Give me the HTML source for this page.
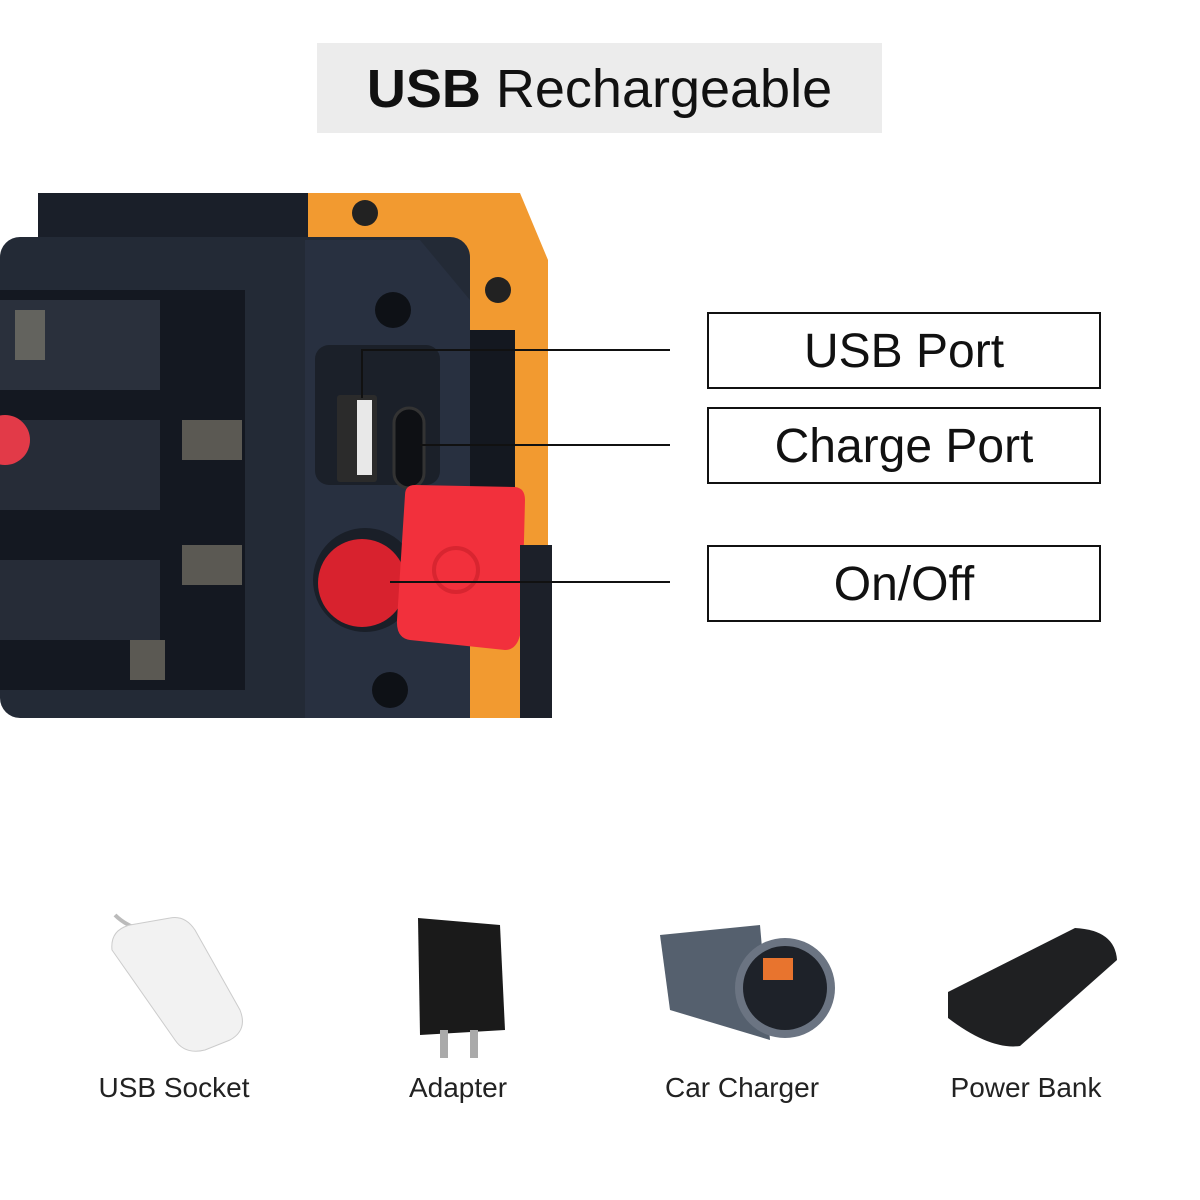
<!DOCTYPE html>
<html><head><meta charset="utf-8"><style>
body{margin:0;width:1200px;height:1200px;background:#fff;position:relative;overflow:hidden;font-family:"Liberation Sans",sans-serif;}
.title{position:absolute;left:317px;top:43px;width:565px;height:90px;background:#ececec;text-align:center;line-height:92px;font-size:54px;color:#111;}
.box{position:absolute;left:707px;width:390px;height:73px;border:2px solid #111;text-align:center;line-height:75px;font-size:48px;color:#111;}
.lbl{position:absolute;top:1072px;width:260px;text-align:center;font-size:28px;color:#222;}
</style></head><body>
<div class="title"><b>USB</b> Rechargeable</div>
<svg width="1200" height="1200" style="position:absolute;left:0;top:0">
<path d="M305 193 L520 193 L548 260 L548 718 L305 718 Z" fill="#f29a30"/>
<rect x="38" y="193" width="270" height="60" fill="#1a1f29"/>
<rect x="470" y="330" width="45" height="230" fill="#141820"/>
<rect x="0" y="237" width="470" height="481" rx="20" fill="#232a36"/>
<path d="M305 240 L420 240 L470 300 L470 718 L305 718 Z" fill="#283040"/>
<rect x="0" y="290" width="245" height="400" fill="#141821"/>
<rect x="0" y="300" width="160" height="90" fill="#2a303c"/>
<rect x="0" y="420" width="160" height="90" fill="#262c37"/>
<rect x="0" y="560" width="160" height="80" fill="#262c37"/>
<circle cx="5" cy="440" r="25" fill="#e23a48"/>
<rect x="182" y="420" width="60" height="40" fill="#8a8575" opacity=".6"/>
<rect x="182" y="545" width="60" height="40" fill="#8a8575" opacity=".6"/>
<rect x="130" y="640" width="35" height="40" fill="#8a8575" opacity=".6"/>
<rect x="15" y="310" width="30" height="50" fill="#8a8575" opacity=".6"/>
<rect x="315" y="345" width="125" height="140" rx="14" fill="#1b2029"/>
<rect x="337" y="395" width="40" height="87" rx="3" fill="#2b2b2b"/>
<rect x="357" y="400" width="15" height="75" fill="#e8e8e8"/>
<rect x="394" y="408" width="30" height="80" rx="15" fill="#0e1014" stroke="#333" stroke-width="3"/>
<circle cx="365" cy="580" r="52" fill="#1a1f28"/>
<circle cx="362" cy="583" r="44" fill="#d8222e"/>
<path d="M405 495 Q405 485 415 485 L515 487 Q525 488 525 500 L522 620 Q521 650 505 650 L410 640 Q396 638 397 620 Z" fill="#f2303c"/>
<circle cx="456" cy="570" r="22" fill="none" stroke="#d82530" stroke-width="4"/>
<circle cx="365" cy="213" r="13" fill="#222"/>
<circle cx="498" cy="290" r="13" fill="#222"/>
<circle cx="393" cy="310" r="18" fill="#0e1116"/>
<circle cx="390" cy="690" r="18" fill="#0e1116"/>
<rect x="520" y="545" width="32" height="173" fill="#1c2029"/>
<g stroke="#111" stroke-width="2" fill="none">
<path d="M362 398 L362 350 L670 350"/>
<path d="M420 445 L670 445"/>
<path d="M390 582 L670 582"/>
</g>
<path d="M115 915 Q130 930 160 935" stroke="#bbb" stroke-width="4" fill="none"/>
<path d="M112 950 Q110 930 130 925 L170 918 Q185 915 195 930 L240 1010 Q248 1030 230 1040 L205 1050 Q185 1055 175 1040 Z" fill="#f2f2f2" stroke="#ccc"/>
<path d="M418 918 L500 925 L505 1030 L420 1035 Z" fill="#1a1a1a"/>
<rect x="440" y="1030" width="8" height="28" fill="#aaa"/><rect x="470" y="1030" width="8" height="28" fill="#aaa"/>
<path d="M660 935 L760 925 L770 1040 L670 1010 Z" fill="#55606e"/>
<circle cx="785" cy="988" r="50" fill="#6b7482"/>
<circle cx="785" cy="988" r="42" fill="#1e2229"/>
<rect x="763" y="958" width="30" height="22" fill="#e8742e"/>
<path d="M948 992 L1075 928 Q1115 930 1117 960 L1020 1046 Q990 1050 948 1018 Z" fill="#1f2022"/>
</svg>
<div class="box" style="top:312px">USB Port</div>
<div class="box" style="top:407px">Charge Port</div>
<div class="box" style="top:545px">On/Off</div>
<div class="lbl" style="left:44px">USB Socket</div>
<div class="lbl" style="left:328px">Adapter</div>
<div class="lbl" style="left:612px">Car Charger</div>
<div class="lbl" style="left:896px">Power Bank</div>
</body></html>
